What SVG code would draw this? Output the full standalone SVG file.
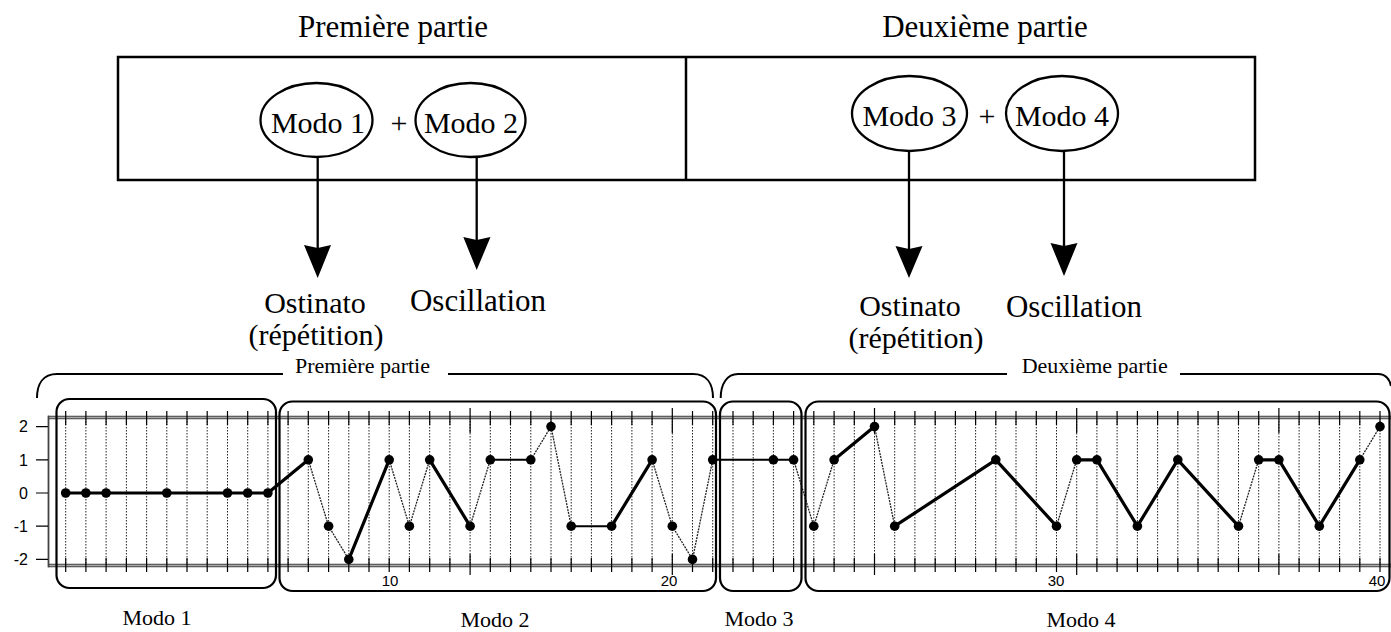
<svg xmlns="http://www.w3.org/2000/svg" width="1391" height="632" viewBox="0 0 1391 632">
<defs>
<style>
.serif{font-family:"Liberation Serif","Times New Roman",serif;fill:#000}
.sans{font-family:"Liberation Sans",Arial,sans-serif;fill:#000}
.t31{font-size:31px}
.t30{font-size:30px}
.t22{font-size:22px}
.t21{font-size:22px}
.ax{font-size:16px}
.axb{font-size:15px}
.box{fill:none;stroke:#000;stroke-width:2.5}
.ell{fill:#fff;stroke:#000;stroke-width:2.3}
.arr{fill:none;stroke:#000;stroke-width:2.3}
.head{fill:#000;stroke:none}
.brace{fill:none;stroke:#000;stroke-width:2}
.mode{fill:none;stroke:#000;stroke-width:2.2}
.thick{fill:none;stroke:#000;stroke-width:3.2;stroke-linejoin:round;stroke-linecap:round}
.med{fill:none;stroke:#000;stroke-width:2;stroke-linejoin:round}
.thin{fill:none;stroke:#222;stroke-width:1.3;stroke-dasharray:2 1}
.grid{fill:none;stroke:#222;stroke-width:1;stroke-dasharray:1.5 1.5}
.tick{fill:none;stroke:#000;stroke-width:1.2}
.frameA{fill:none;stroke:#444;stroke-width:3.6}
.frameB{fill:none;stroke:#aaa;stroke-width:1.4}
.pt{fill:#000}
</style>
</defs>
<rect width="1391" height="632" fill="#fff"/>

<g id="title1"><text class="serif t31" x="393" y="37" text-anchor="middle">Première partie</text></g>
<g id="title2"><text class="serif t31" x="985" y="37" text-anchor="middle">Deuxième partie</text></g>

<g id="topbox">
<rect class="box" x="118" y="57" width="1137" height="123"/>
<line class="box" x1="686" y1="57" x2="686" y2="180"/>
</g>

<g id="connectors">
<line class="arr" x1="317.7" y1="156" x2="317.7" y2="250"/>
<polygon class="head" points="304,245 317.7,248 331,245 317.7,278"/>
<line class="arr" x1="476.7" y1="156" x2="476.7" y2="242"/>
<polygon class="head" points="463.3,237 476.7,240 490.5,237 476.7,270"/>
<line class="arr" x1="909" y1="150" x2="909" y2="250"/>
<polygon class="head" points="895.5,246 909,249 922.5,246 909,278"/>
<line class="arr" x1="1064" y1="150" x2="1064" y2="248"/>
<polygon class="head" points="1050.5,243 1064,246 1077.5,243 1064,276"/>
</g>

<g id="modo1top">
<ellipse class="ell" cx="316.5" cy="120" rx="56" ry="37"/>
<text class="serif t30" x="318" y="133" text-anchor="middle">Modo 1</text>
</g>
<g id="plus1"><text class="serif t30" x="399" y="133" text-anchor="middle">+</text></g>
<g id="modo2top">
<ellipse class="ell" cx="470.5" cy="120" rx="55" ry="37"/>
<text class="serif t30" x="471" y="133" text-anchor="middle">Modo 2</text>
</g>
<g id="modo3top">
<ellipse class="ell" cx="909.5" cy="113.5" rx="57.5" ry="37.5"/>
<text class="serif t30" x="909.5" y="126" text-anchor="middle">Modo 3</text>
</g>
<g id="plus2"><text class="serif t30" x="987" y="126" text-anchor="middle">+</text></g>
<g id="modo4top">
<ellipse class="ell" cx="1062" cy="113.5" rx="56" ry="37.5"/>
<text class="serif t30" x="1062" y="126" text-anchor="middle">Modo 4</text>
</g>

<g id="ostinato1">
<text class="serif t30" x="315" y="313" text-anchor="middle">Ostinato</text>
<text class="serif t30" x="316" y="345" text-anchor="middle">(répétition)</text>
</g>
<g id="oscillation1"><text class="serif t31" x="478" y="311" text-anchor="middle">Oscillation</text></g>
<g id="ostinato2">
<text class="serif t30" x="910" y="316" text-anchor="middle">Ostinato</text>
<text class="serif t30" x="916" y="348" text-anchor="middle">(répétition)</text>
</g>
<g id="oscillation2"><text class="serif t31" x="1074" y="317" text-anchor="middle">Oscillation</text></g>

<g id="brace1">
<path class="brace" d="M37,398 C37,384 43,374 57,374 L283,374 M448,374 L693,374 C707,374 713,384 713,398"/>
<text class="serif t22" x="295" y="373">Première partie</text>
</g>
<g id="brace2">
<path class="brace" d="M720.7,398 C720.7,384 727,374 738,374 L1007,374 M1180,374 L1378,374 C1386,374 1390,380 1391,386"/>
<text class="serif t22" x="1021.7" y="373">Deuxième partie</text>
</g>

<g id="chart">
<path class="grid" d="M65.7 418V565M85.9 418V565M106.1 418V565M126.4 418V565M146.6 418V565M166.8 418V565M187 418V565M207.2 418V565M227.5 418V565M247.7 418V565M267.9 418V565M288.1 418V565M308.3 418V565M328.6 418V565M348.8 418V565M369 418V565M389.2 418V565M409.4 418V565M429.7 418V565M449.9 418V565M470.1 418V565M490.3 418V565M510.5 418V565M530.8 418V565M551 418V565M571.2 418V565M591.4 418V565M611.6 418V565M631.9 418V565M652.1 418V565M672.3 418V565M692.5 418V565M712.7 418V565M733 418V565M753.2 418V565M773.4 418V565M793.6 418V565M813.8 418V565M834.1 418V565M854.3 418V565M874.5 418V565M894.7 418V565M914.9 418V565M935.2 418V565M955.4 418V565M975.6 418V565M995.8 418V565M1016 418V565M1036.3 418V565M1056.5 418V565M1076.7 418V565M1096.9 418V565M1117.1 418V565M1137.4 418V565M1157.6 418V565M1177.8 418V565M1198 418V565M1218.2 418V565M1238.5 418V565M1258.7 418V565M1278.9 418V565M1299.1 418V565M1319.3 418V565M1339.6 418V565M1359.8 418V565M1380 418V565"/>
<line class="frameA" x1="48" y1="417.5" x2="1391" y2="417.5"/>
<line class="frameB" x1="48" y1="417.5" x2="1391" y2="417.5"/>
<line class="frameA" x1="48" y1="565.5" x2="1391" y2="565.5"/>
<line class="frameB" x1="48" y1="565.5" x2="1391" y2="565.5"/>
<line x1="48.5" y1="415.7" x2="48.5" y2="567.3" stroke="#444" stroke-width="1.8"/>
<path class="tick" d="M65.7 411V425M85.9 411V425M106.1 411V425M126.4 411V425M146.6 411V425M166.8 411V425M187 411V425M207.2 411V425M227.5 411V425M247.7 411V425M267.9 411V425M288.1 411V425M308.3 411V425M328.6 411V425M348.8 411V425M369 411V425M389.2 411V425M409.4 411V425M429.7 411V425M449.9 411V425M490.3 411V425M510.5 411V425M530.8 411V425M551 411V425M571.2 411V425M591.4 411V425M611.6 411V425M631.9 411V425M652.1 411V425M692.5 411V425M712.7 411V425M733 411V425M753.2 411V425M773.4 411V425M793.6 411V425M813.8 411V425M834.1 411V425M854.3 411V425M894.7 411V425M914.9 411V425M935.2 411V425M955.4 411V425M975.6 411V425M995.8 411V425M1016 411V425M1036.3 411V425M1056.5 411V425M1096.9 411V425M1117.1 411V425M1137.4 411V425M1157.6 411V425M1177.8 411V425M1198 411V425M1218.2 411V425M1238.5 411V425M1258.7 411V425M1299.1 411V425M1319.3 411V425M1339.6 411V425M1359.8 411V425M1380 411V425"/>
<path class="tick" d="M65.7 558V572M85.9 558V572M106.1 558V572M126.4 558V572M146.6 558V572M166.8 558V572M187 558V572M207.2 558V572M227.5 558V572M247.7 558V572M267.9 558V572M288.1 558V572M308.3 558V572M328.6 558V572M348.8 558V572M369 558V572M389.2 558V572M409.4 558V572M429.7 558V572M449.9 558V572M490.3 558V572M510.5 558V572M530.8 558V572M551 558V572M571.2 558V572M591.4 558V572M611.6 558V572M631.9 558V572M652.1 558V572M692.5 558V572M712.7 558V572M733 558V572M753.2 558V572M773.4 558V572M793.6 558V572M813.8 558V572M834.1 558V572M854.3 558V572M894.7 558V572M914.9 558V572M935.2 558V572M955.4 558V572M975.6 558V572M995.8 558V572M1016 558V572M1036.3 558V572M1056.5 558V572M1096.9 558V572M1117.1 558V572M1137.4 558V572M1157.6 558V572M1177.8 558V572M1198 558V572M1218.2 558V572M1238.5 558V572M1258.7 558V572M1299.1 558V572M1319.3 558V572M1339.6 558V572M1359.8 558V572M1380 558V572"/>
<path class="tick" d="M470.1 408V433M672.3 408V433M874.5 408V433M1076.7 408V433M1278.9 408V433M470.1 554V575M672.3 554V575M874.5 554V575M1076.7 554V575M1278.9 554V575"/>
<path class="tick" d="M36 426.6H48M36 459.8H48M36 493H48M36 526.2H48M36 559.4H48"/>
<text class="sans ax" x="28" y="432.4" text-anchor="end">2</text>
<text class="sans ax" x="28" y="465.6" text-anchor="end">1</text>
<text class="sans ax" x="28" y="498.8" text-anchor="end">0</text>
<text class="sans ax" x="28" y="532" text-anchor="end">-1</text>
<text class="sans ax" x="28" y="565.2" text-anchor="end">-2</text>
<text class="sans axb" x="390" y="585.5" text-anchor="middle">10</text>
<text class="sans axb" x="669" y="585.5" text-anchor="middle">20</text>
<text class="sans axb" x="1056" y="585.5" text-anchor="middle">30</text>
<text class="sans axb" x="1377" y="585.5" text-anchor="middle">40</text>

<path class="thin" d="M308.3 459.8L328.6 526.2L348.8 559.4M389.2 459.8L409.4 526.2L429.7 459.8M470.1 526.2L490.3 459.8M530.8 459.8L551 426.6L571.2 526.2M652.1 459.8L672.3 526.2L692.5 559.4L712.7 459.8M793.6 459.8L813.8 526.2L834.1 459.8M874.5 426.6L894.7 526.2M1056.5 526.2L1076.7 459.8M1238.5 526.2L1258.7 459.8M1359.8 459.8L1380 426.6"/>
<path class="med" d="M490.3 459.8L530.8 459.8M571.2 526.2L611.6 526.2M712.7 459.8L793.6 459.8"/>
<path class="thick" d="M65.7 493L267.9 493L308.3 459.8M348.8 559.4L389.2 459.8M429.7 459.8L470.1 526.2M611.6 526.2L652.1 459.8M834.1 459.8L874.5 426.6M894.7 526.2L995.8 459.8L1056.5 526.2M1076.7 459.8L1096.9 459.8L1137.4 526.2L1177.8 459.8L1238.5 526.2M1258.7 459.8L1278.9 459.8L1319.3 526.2L1359.8 459.8"/>
<g class="pt">
<circle cx="65.7" cy="493" r="4.8"/><circle cx="85.9" cy="493" r="4.8"/><circle cx="106.1" cy="493" r="4.8"/><circle cx="166.8" cy="493" r="4.8"/><circle cx="227.5" cy="493" r="4.8"/><circle cx="247.7" cy="493" r="4.8"/><circle cx="267.9" cy="493" r="4.8"/>
<circle cx="308.3" cy="459.8" r="4.8"/><circle cx="328.6" cy="526.2" r="4.8"/><circle cx="348.8" cy="559.4" r="4.8"/><circle cx="389.2" cy="459.8" r="4.8"/><circle cx="409.4" cy="526.2" r="4.8"/><circle cx="429.7" cy="459.8" r="4.8"/><circle cx="470.1" cy="526.2" r="4.8"/><circle cx="490.3" cy="459.8" r="4.8"/><circle cx="530.8" cy="459.8" r="4.8"/><circle cx="551" cy="426.6" r="4.8"/><circle cx="571.2" cy="526.2" r="4.8"/><circle cx="611.6" cy="526.2" r="4.8"/><circle cx="652.1" cy="459.8" r="4.8"/><circle cx="672.3" cy="526.2" r="4.8"/><circle cx="692.5" cy="559.4" r="4.8"/><circle cx="712.7" cy="459.8" r="4.8"/>
<circle cx="773.4" cy="459.8" r="4.8"/><circle cx="793.6" cy="459.8" r="4.8"/><circle cx="813.8" cy="526.2" r="4.8"/><circle cx="834.1" cy="459.8" r="4.8"/><circle cx="874.5" cy="426.6" r="4.8"/><circle cx="894.7" cy="526.2" r="4.8"/><circle cx="995.8" cy="459.8" r="4.8"/><circle cx="1056.5" cy="526.2" r="4.8"/><circle cx="1076.7" cy="459.8" r="4.8"/><circle cx="1096.9" cy="459.8" r="4.8"/><circle cx="1137.4" cy="526.2" r="4.8"/><circle cx="1177.8" cy="459.8" r="4.8"/><circle cx="1238.5" cy="526.2" r="4.8"/><circle cx="1258.7" cy="459.8" r="4.8"/><circle cx="1278.9" cy="459.8" r="4.8"/><circle cx="1319.3" cy="526.2" r="4.8"/><circle cx="1359.8" cy="459.8" r="4.8"/><circle cx="1380" cy="426.6" r="4.8"/>
</g>
</g>

<g id="modo1box">
<rect class="mode" x="56.5" y="399" width="219.5" height="189" rx="13"/>
<text class="serif t21" x="157" y="625" text-anchor="middle">Modo 1</text>
</g>
<g id="modo2box">
<rect class="mode" x="279.5" y="401.5" width="436.5" height="189.5" rx="13"/>
<text class="serif t21" x="495" y="627" text-anchor="middle">Modo 2</text>
</g>
<g id="modo3box">
<rect class="mode" x="720" y="401.5" width="81.5" height="189.5" rx="13"/>
<text class="serif t21" x="759" y="626" text-anchor="middle">Modo 3</text>
</g>
<g id="modo4box">
<rect class="mode" x="805.5" y="401.5" width="584" height="189.5" rx="13"/>
<text class="serif t21" x="1081" y="627" text-anchor="middle">Modo 4</text>
</g>
</svg>
